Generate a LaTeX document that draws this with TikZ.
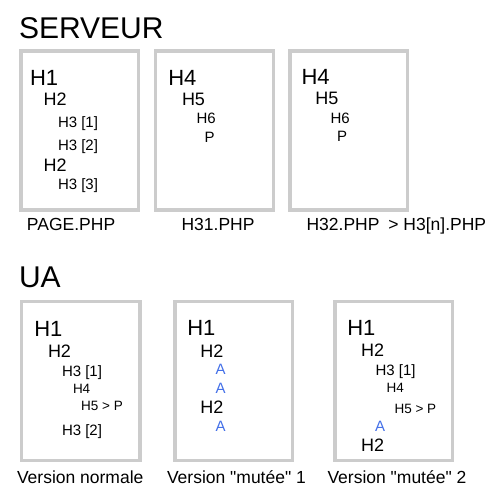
\documentclass[tikz,border=0pt]{standalone}
\usepackage{fontspec}
\setmainfont{Liberation Sans}
\definecolor{sheetgray}{HTML}{CCCCCC}
\definecolor{mutblue}{HTML}{4470E8}
\begin{document}
\begin{tikzpicture}[x=1pt,y=-1pt,
    txt/.style={anchor=base west,inner sep=0pt,outer sep=0pt},
    heading/.style={txt,font=\fontsize{30}{34}\selectfont},
    lvlone/.style={txt,font=\fontsize{22}{26}\selectfont},
    lvltwo/.style={txt,font=\fontsize{18}{22}\selectfont},
    lvlthree/.style={txt,font=\fontsize{15}{18}\selectfont},
    lvlfour/.style={txt,font=\fontsize{13.5}{16}\selectfont},
    mutant/.style={txt,font=\fontsize{15}{18}\selectfont,text=mutblue},
    pagename/.style={txt,font=\fontsize{17.5}{21}\selectfont},
    sheet/.style={draw=sheetgray,line width=3.3pt}]
\useasboundingbox (0,0) rectangle (500,500);
\node[heading] (serveur) at (19,39) {SERVEUR};
\draw[sheet] (21,51) rectangle (138.5,210);
\draw[sheet] (155.7,51) rectangle (273.3,210);
\draw[sheet] (290,51) rectangle (407.7,210);
\node[lvlone] (p1) at (30,85.5) {H1};
\node[lvltwo] (p2a) at (43.6,106) {H2};
\node[lvlthree] (p3a) at (58,128) {H3 [1]};
\node[lvlthree] (p3b) at (58,150.5) {H3 [2]};
\node[lvltwo] (p2b) at (43.6,171.5) {H2};
\node[lvlthree] (p3c) at (58,189.5) {H3 [3]};
\node[pagename] (pagephp) at (27,230) {PAGE.PHP};
\node[lvlone] (ha4) at (168.3,85.5) {H4};
\node[lvltwo] (ha5) at (182,106) {H5};
\node[lvlthree] (ha6) at (196.5,124) {H6};
\node[lvlthree] (hap) at (204.5,142.5) {P};
\node[pagename] (hphp) at (181.6,230) {H31.PHP};
\node[lvlone] (hb4) at (301.6,85) {H4};
\node[lvltwo] (hb5) at (315.3,105) {H5};
\node[lvlthree] (hb6) at (330.5,123.5) {H6};
\node[lvlthree] (hbp) at (337,141) {P};
\node[pagename] (hnphp) at (306.6,230) {H32.PHP\hspace{4pt} > H3[n].PHP};
\node[heading] (ua) at (19,287) {UA};
\draw[sheet] (21.7,301.7) rectangle (140,460.7);
\draw[sheet] (175,301.7) rectangle (292.7,460.7);
\draw[sheet] (335,301.7) rectangle (452.7,460.7);
\node[lvlone] (n1) at (34.3,336) {H1};
\node[lvltwo] (n2) at (48,357.3) {H2};
\node[lvlthree] (n3a) at (62,376) {H3 [1]};
\node[lvlfour] (n4) at (73,393.3) {H4};
\node[lvlfour] (n5) at (81.2,410.7) {H5 > P};
\node[lvlthree] (n3b) at (62,435.7) {H3 [2]};
\node[pagename] (normale) at (17,483.3) {Version normale};
\node[lvlone] (ma1) at (187.3,335.5) {H1};
\node[lvltwo] (ma2a) at (200.3,357.3) {H2};
\node[mutant] (maa) at (215.5,374) {A};
\node[mutant] (mab) at (215.5,393.3) {A};
\node[lvltwo] (ma2b) at (200.3,413.3) {H2};
\node[mutant] (mac) at (215.5,431.7) {A};
\node[pagename] (mutone) at (167,483.3) {Version \textquotedbl mutée\textquotedbl{} 1};
\node[lvlone] (mb1) at (347.3,335.5) {H1};
\node[lvltwo] (mb2a) at (361,356.7) {H2};
\node[lvlthree] (mb3) at (375.5,375) {H3 [1]};
\node[lvlfour] (mb4) at (386.6,392.7) {H4};
\node[lvlfour] (mb5) at (394.6,413.3) {H5 > P};
\node[mutant] (mba) at (375,431.7) {A};
\node[lvltwo] (mb2b) at (361,451.7) {H2};
\node[pagename] (muttwo) at (327.5,483.3) {Version \textquotedbl mutée\textquotedbl{} 2};
\end{tikzpicture}
\end{document}
